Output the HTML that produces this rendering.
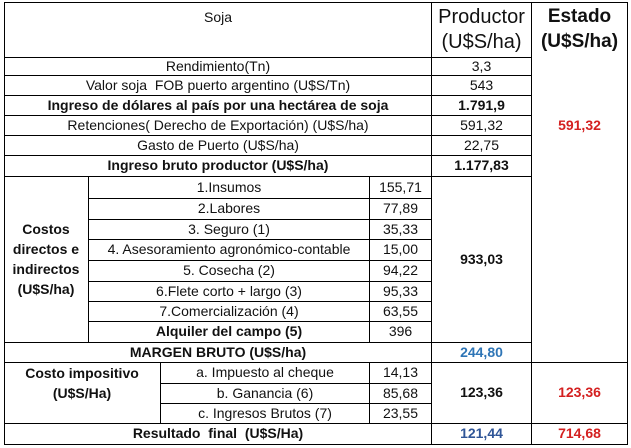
<!DOCTYPE html>
<html><head><meta charset="utf-8"><style>
html,body{margin:0;padding:0;background:#fff;}
body{width:631px;height:448px;position:relative;overflow:hidden;font-family:"Liberation Sans",sans-serif;font-size:14px;color:#111;}
.c{position:absolute;display:flex;align-items:center;justify-content:center;text-align:center;line-height:1.15;white-space:nowrap;}
.b{font-weight:bold;}
.h{position:absolute;height:1px;background:#000;}
.v{position:absolute;width:1px;background:#000;}
.red{color:#d42020;font-weight:bold;}
.blue{color:#2e75b6;font-weight:bold;}
</style></head><body>
<div class="h" style="left:4px;top:2px;width:624px"></div>
<div class="h" style="left:4px;top:444px;width:624px"></div>
<div class="v" style="left:4px;top:2px;height:443px"></div>
<div class="v" style="left:627px;top:2px;height:443px"></div>
<div class="v" style="left:431px;top:2px;height:443px"></div>
<div class="v" style="left:531px;top:2px;height:443px"></div>
<div class="h" style="left:4px;top:57px;width:528px"></div>
<div class="h" style="left:4px;top:75px;width:528px"></div>
<div class="h" style="left:4px;top:95px;width:528px"></div>
<div class="h" style="left:4px;top:115px;width:528px"></div>
<div class="h" style="left:4px;top:135px;width:528px"></div>
<div class="h" style="left:4px;top:155px;width:528px"></div>
<div class="h" style="left:4px;top:176px;width:528px"></div>
<div class="h" style="left:88px;top:198px;width:344px"></div>
<div class="h" style="left:88px;top:219px;width:344px"></div>
<div class="h" style="left:88px;top:239px;width:344px"></div>
<div class="h" style="left:88px;top:260px;width:344px"></div>
<div class="h" style="left:88px;top:281px;width:344px"></div>
<div class="h" style="left:88px;top:301px;width:344px"></div>
<div class="h" style="left:88px;top:321px;width:344px"></div>
<div class="h" style="left:4px;top:342px;width:528px"></div>
<div class="h" style="left:4px;top:362px;width:624px"></div>
<div class="h" style="left:160px;top:383px;width:272px"></div>
<div class="h" style="left:160px;top:403px;width:272px"></div>
<div class="h" style="left:4px;top:423px;width:624px"></div>
<div class="v" style="left:88px;top:176px;height:166px"></div>
<div class="v" style="left:369px;top:176px;height:166px"></div>
<div class="v" style="left:160px;top:362px;height:61px"></div>
<div class="v" style="left:369px;top:362px;height:61px"></div>
<div class="c" style="left:4px;top:2px;width:428px;height:30px">Soja</div>
<div class="c" style="left:432px;top:2px;width:99px;height:55px;font-size:20px;line-height:1.25">Productor<br>(U$S/ha)</div>
<div class="c b" style="left:532px;top:2px;width:95px;height:55px;font-size:19px;line-height:1.3">Estado<br>(U$S/ha)</div>
<div class="c" style="left:4px;top:57px;width:428px;height:18px">Rendimiento(Tn)</div>
<div class="c" style="left:432px;top:57px;width:99px;height:18px">3,3</div>
<div class="c" style="left:4px;top:75px;width:428px;height:20px">Valor soja&nbsp; FOB puerto argentino (U$S/Tn)</div>
<div class="c" style="left:432px;top:75px;width:99px;height:20px">543</div>
<div class="c b" style="left:4px;top:95px;width:428px;height:20px">Ingreso de dólares al país por una hectárea de soja</div>
<div class="c b" style="left:432px;top:95px;width:99px;height:20px">1.791,9</div>
<div class="c" style="left:4px;top:115px;width:428px;height:20px">Retenciones( Derecho de Exportación) (U$S/ha)</div>
<div class="c" style="left:432px;top:115px;width:99px;height:20px">591,32</div>
<div class="c red" style="left:532px;top:115px;width:95px;height:20px">591,32</div>
<div class="c" style="left:4px;top:135px;width:428px;height:20px">Gasto de Puerto (U$S/ha)</div>
<div class="c" style="left:432px;top:135px;width:99px;height:20px">22,75</div>
<div class="c b" style="left:4px;top:155px;width:428px;height:21px">Ingreso bruto productor (U$S/ha)</div>
<div class="c b" style="left:432px;top:155px;width:99px;height:21px">1.177,83</div>
<div class="c b" style="left:4px;top:176px;width:84px;height:166px;line-height:20px">Costos<br>directos e<br>indirectos<br>(U$S/ha)</div>
<div class="c" style="left:89px;top:176px;width:280px;height:22px">1.Insumos</div>
<div class="c" style="left:370px;top:176px;width:61px;height:22px">155,71</div>
<div class="c" style="left:89px;top:198px;width:280px;height:21px">2.Labores</div>
<div class="c" style="left:370px;top:198px;width:61px;height:21px">77,89</div>
<div class="c" style="left:89px;top:219px;width:280px;height:20px">3. Seguro (1)</div>
<div class="c" style="left:370px;top:219px;width:61px;height:20px">35,33</div>
<div class="c" style="left:89px;top:239px;width:280px;height:21px">4. Asesoramiento agronómico-contable</div>
<div class="c" style="left:370px;top:239px;width:61px;height:21px">15,00</div>
<div class="c" style="left:89px;top:260px;width:280px;height:21px">5. Cosecha (2)</div>
<div class="c" style="left:370px;top:260px;width:61px;height:21px">94,22</div>
<div class="c" style="left:89px;top:281px;width:280px;height:20px">6.Flete corto + largo (3)</div>
<div class="c" style="left:370px;top:281px;width:61px;height:20px">95,33</div>
<div class="c" style="left:89px;top:301px;width:280px;height:20px">7.Comercialización (4)</div>
<div class="c" style="left:370px;top:301px;width:61px;height:20px">63,55</div>
<div class="c b" style="left:89px;top:321px;width:280px;height:21px">Alquiler del campo (5)</div>
<div class="c" style="left:370px;top:321px;width:61px;height:21px">396</div>
<div class="c b" style="left:432px;top:176px;width:99px;height:166px">933,03</div>
<div class="c b" style="left:4px;top:342px;width:428px;height:20px">MARGEN BRUTO (U$S/ha)</div>
<div class="c blue" style="left:432px;top:342px;width:99px;height:20px">244,80</div>
<div class="c b" style="left:4px;top:362px;width:156px;height:42px;line-height:20px">Costo impositivo<br>(U$S/Ha)</div>
<div class="c" style="left:161px;top:362px;width:208px;height:21px">a. Impuesto al cheque</div>
<div class="c" style="left:370px;top:362px;width:61px;height:21px">14,13</div>
<div class="c" style="left:161px;top:383px;width:208px;height:20px">b. Ganancia (6)</div>
<div class="c" style="left:370px;top:383px;width:61px;height:20px">85,68</div>
<div class="c" style="left:161px;top:403px;width:208px;height:20px">c. Ingresos Brutos (7)</div>
<div class="c" style="left:370px;top:403px;width:61px;height:20px">23,55</div>
<div class="c b" style="left:432px;top:362px;width:99px;height:61px">123,36</div>
<div class="c red" style="left:532px;top:362px;width:95px;height:61px">123,36</div>
<div class="c b" style="left:4px;top:423px;width:428px;height:21px">Resultado&nbsp; final&nbsp; (U$S/Ha)</div>
<div class="c blue" style="left:432px;top:423px;width:99px;height:21px;color:#2f5597">121,44</div>
<div class="c red" style="left:532px;top:423px;width:95px;height:21px">714,68</div>
</body></html>
